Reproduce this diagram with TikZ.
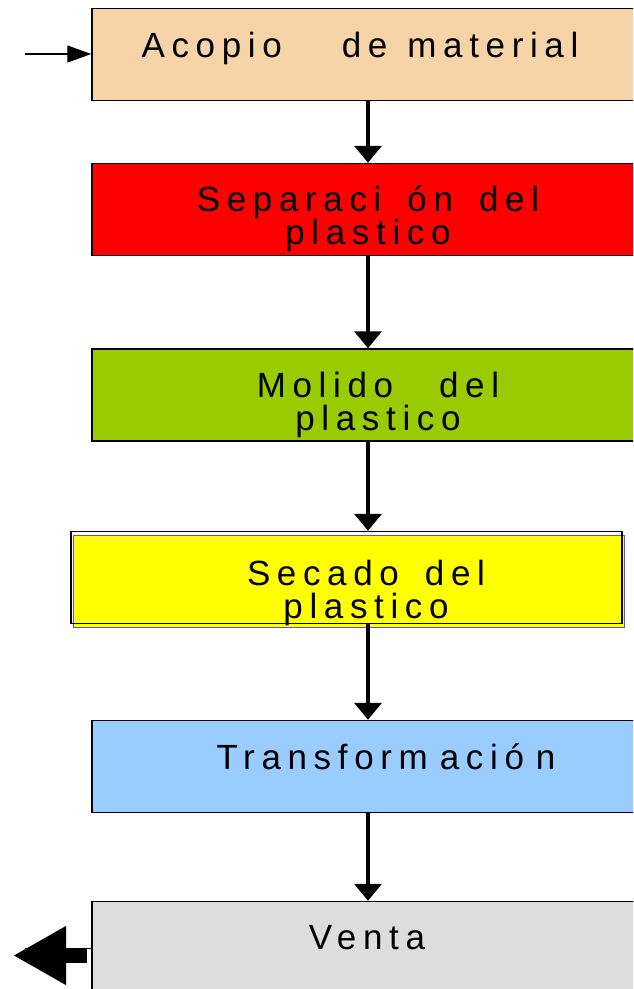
\documentclass[tikz,border=0pt]{standalone}
\usepackage{fontspec}
\newfontfamily\boxfont[LetterSpace=19]{Liberation Sans}
\usetikzlibrary{arrows.meta}
\usetikzlibrary{shadows}
\definecolor{acopio}{HTML}{F7D4A8}
\definecolor{separa}{HTML}{FF0000}
\definecolor{molido}{HTML}{99CC00}
\definecolor{secado}{HTML}{FFFF00}
\definecolor{secborde}{HTML}{4F4FFF}
\definecolor{transf}{HTML}{99CCFF}
\definecolor{venta}{HTML}{DDDDDD}
\newcommand\boxtext{\boxfont\fontsize{35}{33.5}\selectfont\spaceskip=26pt\relax}
\tikzset{>=latex}
\tikzset{proc/.style={draw, line width=1.5pt, minimum width=552pt, minimum height=92pt, inner sep=0pt}}
\tikzset{lbl/.style={anchor=north, align=center, inner sep=0pt, font=\boxtext}}
\tikzset{flow/.style={line width=4pt, -{Triangle[length=17pt, width=27pt]}}}

\begin{document}
\begin{tikzpicture}[x=1pt, y=-1pt]
    \useasboundingbox (0, 0) rectangle (633, 989);
    \clip (0, 0) rectangle (633, 989);
    % cajas del proceso
    \node[proc, fill=acopio](acopio) at (368, 54.5){};
    \node[proc, fill=separa](separacion) at (368, 209.5){};
    \node[proc, fill=molido](molido) at (368, 395){};
    \node[proc, minimum width=551pt, copy shadow={shadow xshift=2pt, shadow yshift=-4pt,
      fill=secado, draw=secborde, line width=1pt}](secadobox) at (346.5, 577.5){};
    \node[proc, fill=transf](transformacion) at (368, 766.5){};
    \node[proc, fill=venta](venta) at (368, 947.5){};
    % textos
    \node[lbl](acopio-txt) at (360, 31.5){\spaceskip=20pt\relax Acopio\hspace{60pt}de material};
    \node[lbl](separacion-txt) at (368, 185.5){Separaci ón del\\plastico};
    \node[lbl](molido-txt) at (378, 371.5){Molido\hspace{46pt}del\\plastico};
    \node[lbl](secado-txt) at (366, 559.5){Secado del\\plastico};
    \node[lbl](transformacion-txt) at (386, 743.5){\spaceskip=12pt\relax Transform ació n};
    \node[lbl](venta-txt) at (367, 925.5){Venta};
    % flechas
    \draw[flow](acopio.south)--(separacion.north);
    \draw[flow](separacion.south)--(molido.north);
    \draw[flow](molido.south)--(molido.south |- secadobox.north);
    \draw[flow](secadobox.south -| transformacion.north)--(transformacion.north);
    \draw[flow](transformacion.south)--(venta.north);
    % entrada y salida
    \coordinate(entrada) at (25, 54);
    \draw[line width=1.3pt, -{Triangle[length=24pt, width=17pt]}](entrada)--(entrada -| acopio.west);
    \coordinate(salida-raiz) at (87, 955.5);
    \coordinate(salida) at (13, 955.5);
    \draw[line width=15pt, -{Triangle[length=53pt, width=55pt]}](salida-raiz)--(salida);
    \coordinate(salida-linea) at (25, 948);
    \draw[line width=1pt](salida-linea -| venta.west)--(salida-linea);
\end{tikzpicture}
\end{document}
